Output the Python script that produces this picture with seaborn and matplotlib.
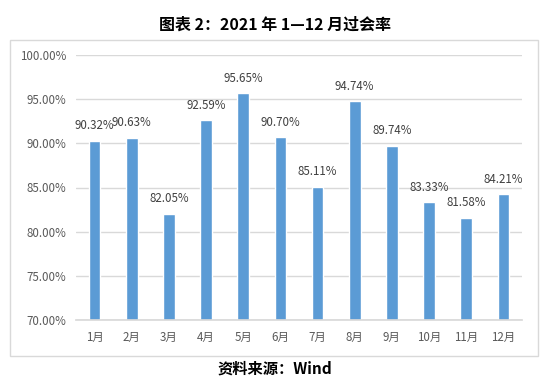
import pandas as pd
import seaborn as sns
import matplotlib.pyplot as plt
from matplotlib.patches import Rectangle
from matplotlib.ticker import FuncFormatter

months = ['1月', '2月', '3月', '4月', '5月', '6月', '7月', '8月', '9月', '10月', '11月', '12月']
rates = [90.32, 90.63, 82.05, 92.59, 95.65, 90.70, 85.11, 94.74, 89.74, 83.33, 81.58, 84.21]
yticks = [70, 75, 80, 85, 90, 95, 100]

df = pd.DataFrame({'month': months, 'rate': rates})

sns.set_theme(style='white')
plt.rcParams['font.family'] = ['Noto Sans CJK SC', 'DejaVu Sans']

fig = plt.figure(figsize=(5.49, 3.86), dpi=100)
ax = fig.add_axes([76 / 549, 1 - 320 / 386, 446 / 549, 265 / 386])

# chart frame
fig.patches.append(Rectangle((10 / 549, 1 - 356 / 386), 528 / 549, 316 / 386,
                             transform=fig.transFigure, fill=False,
                             edgecolor='#d9d9d9', linewidth=1))

sns.barplot(data=df, x='month', y='rate', color='#5b9bd5', saturation=1,
            width=0.31, ax=ax)

ax.set_ylim(70, 100)
ax.set_yticks(yticks)
ax.yaxis.set_major_formatter(FuncFormatter(lambda v, p: f'{v:.2f}%'))
ax.grid(axis='y', color='#d9d9d9', linewidth=1)
ax.set_axisbelow(True)
for s in ['top', 'right', 'left']:
    ax.spines[s].set_visible(False)
ax.spines['bottom'].set_color('#d9d9d9')
ax.tick_params(axis='both', length=0, labelsize=8.3, labelcolor='#595959')
ax.tick_params(axis='y', pad=7)
ax.tick_params(axis='x', pad=8)
ax.set_xlabel('')
ax.set_ylabel('')

for i, v in enumerate(rates):
    ax.annotate(f'{v:.2f}%', (i, v), xytext=(0, 6), textcoords='offset points',
                ha='center', va='bottom', fontsize=8.3, color='#404040')

fig.text(275 / 549, 1 - 25 / 386, '图表 2：2021 年 1—12 月过会率', ha='center', va='center',
         fontsize=11.5, fontweight='bold', color='black')
fig.text(275 / 549, 1 - 369 / 386, '资料来源：Wind', ha='center', va='center',
         fontsize=11, fontweight='bold', color='black')

fig.savefig('out.png', dpi=100)
